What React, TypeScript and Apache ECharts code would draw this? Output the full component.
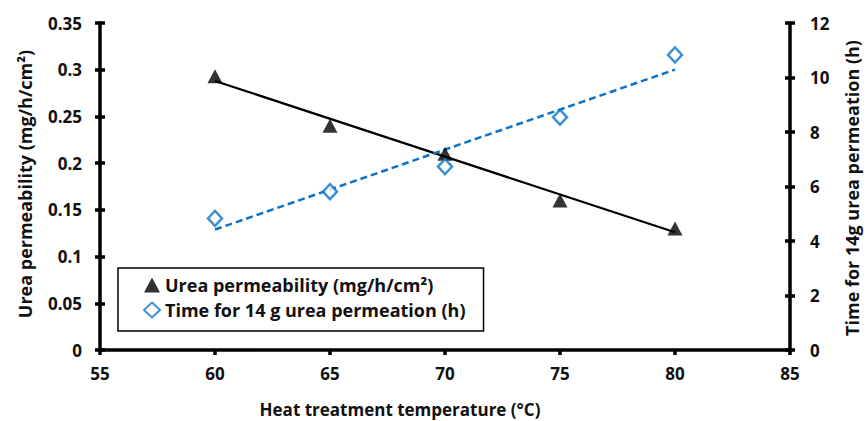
import React, { useEffect, useRef } from "react";
import * as echarts from "echarts";

const temperatures = [60, 65, 70, 75, 80];
const permeability = [0.293, 0.24, 0.21, 0.16, 0.13];
const permeationTime = [4.83, 5.81, 6.73, 8.54, 10.83];
const trendX = [60, 80];
const permTrendEnds = [0.288, 0.126];
const timeTrendEnds = [4.42, 10.29];

const permName = "Urea permeability (mg/h/cm²)";
const timeName = "Time for 14 g urea permeation (h)";
const xTitle = "Heat treatment temperature (°C)";
const leftTitle = "Urea permeability (mg/h/cm²)";
const rightTitle = "Time for 14g urea permeation (h)";

const FONT = "Open Sans";
const BLUE = "#0B74C8";
const GRID = { left: 100, right: 77, top: 23, bottom: 71 };

const labelStyle = { color: "#111", fontFamily: FONT, fontWeight: "bold", fontSize: 17 };
const mkLine = () => ({ show: true, lineStyle: { color: "#000", width: 3.5 } });
const mkTick = (inside: boolean) => ({ show: true, inside, length: 5, lineStyle: { color: "#000", width: 3.5 } });

function mainOption() {
  return {
    animation: false,
    backgroundColor: "#fff",
    grid: GRID,
    legend: {
      data: [permName, timeName],
      orient: "vertical",
      left: 118,
      top: 268,
      itemWidth: 16,
      itemHeight: 15,
      itemGap: 1,
      padding: [5, 18, 9, 25],
      borderColor: "#000",
      borderWidth: 1.5,
      backgroundColor: "#fff",
      textStyle: { ...labelStyle, fontSize: 18, lineHeight: 24 },
    },
    xAxis: {
      type: "value",
      min: 55,
      max: 85,
      interval: 5,
      axisLine: mkLine(),
      axisTick: mkTick(false),
      axisLabel: { ...labelStyle, margin: 15 },
      splitLine: { show: false },
    },
    yAxis: [
      {
        type: "value",
        position: "left",
        min: 0,
        max: 0.35,
        interval: 0.05,
        axisLine: mkLine(),
        axisTick: mkTick(false),
        axisLabel: { ...labelStyle, margin: 18 },
        splitLine: { show: false },
      },
      {
        type: "value",
        position: "right",
        min: 0,
        max: 12,
        interval: 2,
        axisLine: mkLine(),
        axisTick: mkTick(false),
        axisLabel: { ...labelStyle, margin: 20 },
        splitLine: { show: false },
      },
    ],
    series: [
      {
        name: "permTrend",
        type: "line",
        yAxisIndex: 0,
        data: trendX.map((x, i) => [x, permTrendEnds[i]]),
        symbol: "none",
        lineStyle: { color: "#000", width: 2.2 },
        silent: true,
        z: 2,
      },
      {
        name: "timeTrend",
        type: "line",
        yAxisIndex: 1,
        data: trendX.map((x, i) => [x, timeTrendEnds[i]]),
        symbol: "none",
        lineStyle: { color: BLUE, width: 2.5, type: [7, 4] },
        silent: true,
        z: 2,
      },
      {
        name: permName,
        type: "scatter",
        yAxisIndex: 0,
        data: temperatures.map((x, i) => [x, permeability[i]]),
        symbol: "triangle",
        symbolSize: [15, 14],
        itemStyle: { color: "#000" },
        z: 3,
      },
      {
        name: timeName,
        type: "scatter",
        yAxisIndex: 1,
        data: temperatures.map((x, i) => [x, permeationTime[i]]),
        symbol: "diamond",
        symbolSize: [14, 15],
        itemStyle: { color: "#fff", borderColor: BLUE, borderWidth: 2.5 },
        z: 3,
      },
    ],
  };
}

function tickOption() {
  return {
    animation: false,
    backgroundColor: "transparent",
    grid: GRID,
    xAxis: {
      type: "value",
      min: 55,
      max: 85,
      interval: 5,
      axisLine: { show: false },
      axisTick: { show: false },
      axisLabel: { show: false },
      splitLine: { show: false },
    },
    yAxis: [
      {
        type: "value",
        position: "left",
        min: 0,
        max: 0.35,
        interval: 0.05,
        axisLine: { show: false },
        axisTick: mkTick(true),
        axisLabel: { show: false },
        splitLine: { show: false },
      },
      {
        type: "value",
        position: "right",
        min: 0,
        max: 12,
        interval: 2,
        axisLine: { show: false },
        axisTick: mkTick(true),
        axisLabel: { show: false },
        splitLine: { show: false },
      },
    ],
    series: [],
  };
}

function titleOption() {
  const st = (size: number) => ({
    fill: "#111",
    fontFamily: FONT,
    fontWeight: "bold",
    fontSize: size,
    align: "center",
    verticalAlign: "middle",
  });
  return {
    animation: false,
    backgroundColor: "transparent",
    graphic: [
      { type: "text", x: 400, y: 409, style: { text: xTitle, ...st(17) } },
      { type: "text", x: 25, y: 184, rotation: Math.PI / 2, style: { text: leftTitle, ...st(18) } },
      { type: "text", x: 852, y: 188, rotation: Math.PI / 2, style: { text: rightTitle, ...st(18) } },
    ],
  };
}

function Layer({ option }: { option: () => any }) {
  const ref = useRef<HTMLDivElement>(null);
  useEffect(() => {
    if (!ref.current) return;
    const chart = echarts.init(ref.current, undefined, { renderer: "svg" });
    chart.setOption(option());
    return () => chart.dispose();
  }, []);
  return (
    <div
      ref={ref}
      style={{ position: "absolute", left: 0, top: 0, width: 867, height: 421, pointerEvents: "none" }}
    />
  );
}

export default function App() {
  return (
    <div style={{ position: "fixed", left: 0, top: 0, width: 867, height: 421, background: "#fff" }}>
      <Layer option={mainOption} />
      <Layer option={tickOption} />
      <Layer option={titleOption} />
    </div>
  );
}
